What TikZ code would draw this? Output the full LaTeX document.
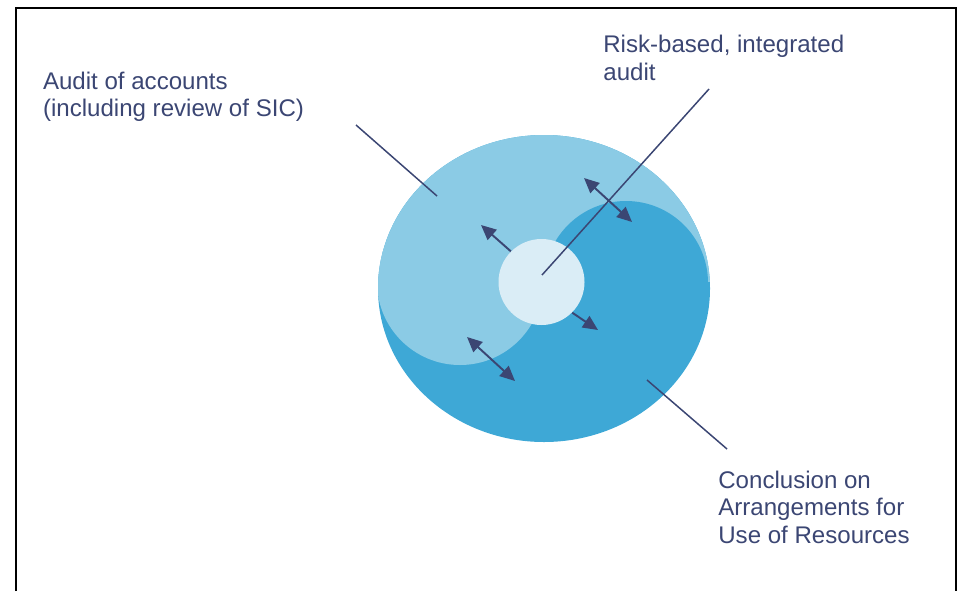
\documentclass[tikz,border=0pt]{standalone}
\usepackage{fontspec}
\setmainfont{Liberation Sans}
\usetikzlibrary{arrows.meta}
\definecolor{deepblue}{RGB}{62,168,214}
\definecolor{paleblue}{RGB}{139,203,229}
\definecolor{coreblue}{RGB}{218,237,246}
\definecolor{navy}{RGB}{59,70,115}

\begin{document}
\begin{tikzpicture}[
	labeltext/.style={anchor=north west,inner sep=0pt,align=left,text=navy,font=\fontsize{13.7}{15.7}\selectfont},
	pointer/.style={navy,line width=0.85pt},
	flow/.style={navy,line width=1.1pt,-{Triangle[length=3mm,width=2.7mm]}},
	twoway/.style={navy,line width=1.1pt,{Triangle[length=3mm,width=2.7mm]}-{Triangle[length=3mm,width=2.7mm]}}
]
		\useasboundingbox (0,0) rectangle (19.18,11.82);
		\draw[line width=1.15pt] (0.32,0) -- (0.32,11.66) -- (19.12,11.66) -- (19.12,0);

		\fill[deepblue] (10.88,6.05) ellipse (3.32 and 3.07);
		\begin{scope}
			\clip (10.88,6.05) ellipse (3.32 and 3.07);
			\fill[paleblue] (7.5,6.18) rectangle (14.3,9.2);
			\fill[paleblue] (9.20,6.18) circle (1.66);
			\fill[deepblue] (12.52,6.16) circle (1.64);
		\end{scope}
		\node[circle,fill=coreblue,minimum size=1.72cm,inner sep=0pt] (core) at (10.83,6.18) {};

		\node[labeltext] (accounts) at (0.854,10.39) {Audit of accounts\\(including review of SIC)};
		\node[labeltext] (riskbased) at (12.06,11.12) {Risk-based, integrated\\audit};
		\node[labeltext] (resources) at (14.36,2.41) {Conclusion on\\Arrangements for\\Use of Resources};

		\coordinate (accounts from) at (7.12,9.32);
		\coordinate (accounts to) at (8.74,7.90);
		\coordinate (riskbased from) at (14.18,10.04);
		\coordinate (riskbased to) at (10.84,6.32);
		\coordinate (resources from) at (14.54,2.84);
		\coordinate (resources to) at (12.94,4.22);

		\draw[pointer] (accounts from) -- (accounts to);
		\draw[pointer] (riskbased from) -- (riskbased to);
		\draw[pointer] (resources from) -- (resources to);

		\coordinate (upper a) at (11.68,8.26);
		\coordinate (upper b) at (12.64,7.38);
		\coordinate (lower a) at (9.34,5.08);
		\coordinate (lower b) at (10.30,4.20);
		\coordinate (out left) at (9.62,7.32);
		\coordinate (out right) at (11.96,5.22);

		\draw[twoway] (upper a) -- (upper b);
		\draw[twoway] (lower a) -- (lower b);
		\draw[flow] (core.135) -- (out left);
		\draw[flow] (core.-45) -- (out right);
	\end{tikzpicture}
\end{document}
